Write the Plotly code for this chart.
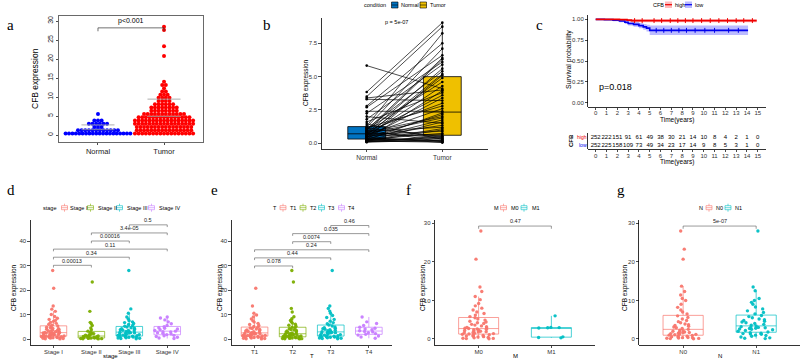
import numpy as np
import plotly.graph_objects as go

W, H = 800, 360
def PX(x): return x / W
def PY(y): return 1 - y / H

SANS = "Liberation Sans, Arial, sans-serif"
SERIF = "Liberation Serif, Times New Roman, serif"

# ---------------- data ----------------
a_categories = ["Normal", "Tumor"]
a_normal = [0.2, 0.25, 0.3, 0.3, 0.35, 0.35, 0.4, 0.4, 0.4, 0.45, 0.45, 0.5, 0.5, 0.5, 0.55, 0.55,
            0.6, 0.6, 0.65, 0.8, 0.9, 0.95, 1.0, 1.0, 1.05, 1.1, 1.1, 1.15, 1.2, 1.3, 1.4, 1.6,
            1.8, 2.0, 2.3, 2.6, 2.8, 2.9, 3.0, 3.1, 3.2, 3.4, 3.6, 3.9, 5.9]
a_tumor = [0.05, 0.1, 0.12, 0.15, 0.2, 0.22, 0.25, 0.3, 0.35, 0.4, 0.45, 0.5, 0.55, 0.6, 0.65, 0.7, 0.8, 0.85,
           0.95, 1.0, 1.05, 1.1, 1.15, 1.2, 1.25, 1.3, 1.35, 1.4, 1.45, 1.5, 1.55, 1.6, 1.65, 1.7, 1.75, 1.8,
           1.9, 1.95, 2.0, 2.05, 2.1, 2.15, 2.2, 2.25, 2.3, 2.35, 2.4, 2.45, 2.5, 2.55, 2.6, 2.65, 2.7, 2.72,
           2.8, 2.85, 2.9, 2.95, 3.0, 3.05, 3.1, 3.15, 3.2, 3.25, 3.3, 3.35, 3.4, 3.45, 3.5, 3.55, 3.6, 3.65,
           3.7, 3.75, 3.8, 3.85, 3.9, 3.95, 4.0, 4.05, 4.1, 4.15, 4.2, 4.25, 4.3, 4.35, 4.4, 4.45, 4.5, 4.55,
           4.65, 4.7, 4.75, 4.8, 4.85, 4.9, 5.0, 5.05, 5.1, 5.2, 5.25, 5.3, 5.4, 5.45,
           5.55, 5.6, 5.7, 5.75, 5.8, 5.9, 6.0, 6.1, 6.2, 6.3, 6.35,
           6.5, 6.6, 6.7, 6.8, 6.9, 7.0, 7.1, 7.2, 7.3,
           7.5, 7.6, 7.8, 7.9, 8.0, 8.1, 8.2, 8.4, 8.6, 8.8, 9.0, 9.1,
           9.4, 9.6, 9.8, 10.0, 10.3, 10.6, 10.9, 11.3, 11.8, 12.2, 12.8, 13.3, 13.8,
           20.7, 23.2, 28.0, 28.1]
a_pvalue = "p<0.001"

b_categories = ["Normal", "Tumor"]
b_normal = [5.83, 3.85, 3.5, 3.4, 3.3, 2.8, 2.7, 2.4, 2.25, 2.0, 1.8, 1.6, 1.45, 1.3,
            1.2, 1.17, 1.13, 1.1, 1.05, 1.0, 0.97, 0.93, 0.9, 0.86, 0.83, 0.8, 0.75, 0.72,
            0.7, 0.68, 0.65, 0.62, 0.6, 0.56, 0.53, 0.5, 0.48, 0.45, 0.42, 0.4, 0.36, 0.33,
            0.3, 0.28, 0.27, 0.25, 0.24, 0.22, 0.2, 0.19, 0.17, 0.15, 0.14, 0.12, 0.1, 0.08]
b_tumor = [4.1, 9.05, 8.75, 4.0, 3.2, 7.5, 6.6, 2.4, 6.1, 1.5, 5.9, 3.8, 0.3, 8.25,
           7.1, 2.8, 0.5, 5.4, 4.6, 0.1, 6.4, 3.0, 1.2, 6.3, 2.0, 0.42, 5.6, 3.6,
           1.9, 4.9, 0.9, 2.6, 5.2, 0.65, 4.3, 1.35, 0.05, 3.4, 2.15, 5.1, 0.2, 1.75,
           3.95, 0.75, 0.33, 2.28, 0.15, 1.1, 0.47, 1.6, 0.08, 1.0, 0.38, 0.18, 0.55, 0.25]
b_pvalue = "p = 5e-07"

c_high_time = [0, 2.2, 2.9, 3.3, 14.9]
c_high_surv = [1.0, 0.996, 0.99, 0.985, 0.985]
c_high_lower = [1.0, 0.986, 0.975, 0.966, 0.966]
c_high_upper = [1.0, 1.0, 1.0, 1.0, 1.0]
c_low_time = [0, 0.8, 1.6, 2.2, 2.7, 3.0, 3.5, 4.0, 4.4, 4.7, 5.0, 14.1]
c_low_surv = [1.0, 0.996, 0.99, 0.98, 0.965, 0.95, 0.94, 0.925, 0.91, 0.895, 0.868, 0.868]
c_low_lower = [1.0, 0.988, 0.978, 0.965, 0.945, 0.925, 0.912, 0.893, 0.875, 0.855, 0.812, 0.812]
c_low_upper = [1.0, 1.0, 1.0, 0.995, 0.985, 0.975, 0.968, 0.957, 0.945, 0.935, 0.925, 0.925]
c_high_censor = [3.6, 4.3, 5.4, 6.1, 6.9, 7.6, 8.3, 9.0, 9.8, 10.6, 11.4, 12.2, 13.0, 13.7, 14.5]
c_low_censor = [5.6, 6.3, 7.0, 7.7, 8.4, 9.2, 10.1, 11.0, 12.3, 13.2]
risk_times = list(range(16))
risk_high = [252, 222, 151, 91, 61, 49, 38, 30, 21, 14, 10, 8, 4, 2, 1, 0]
risk_low = [252, 225, 158, 109, 73, 49, 34, 23, 17, 14, 9, 8, 5, 3, 1, 0]
c_groups = ["high", "low"]
c_pvalue = "p=0.018"

stage_labels = ["Stage I", "Stage II", "Stage III", "Stage IV"]
stage_values = [
    [0.05, 0.1, 0.2, 0.3, 0.35, 0.45, 0.5, 0.6, 0.7, 0.8, 0.85, 0.9, 0.95, 1.0, 1.1, 1.2, 1.3, 1.4, 1.5, 1.6,
     1.7, 1.8, 1.9, 2.0, 2.1, 2.2, 2.3, 2.35, 2.4, 2.5, 2.6, 2.7, 2.8, 3.0, 3.1, 3.3, 3.5, 3.6, 3.8, 4.0,
     4.2, 4.3, 4.5, 4.8, 5.0, 5.3, 5.6, 6.0, 6.4, 6.8, 7.2, 7.6, 8.0, 8.5, 9.2, 10.0, 11.3, 12.2, 13.5, 20.7, 28.0],
    [0.05, 0.1, 0.15, 0.2, 0.25, 0.3, 0.35, 0.4, 0.5, 0.6, 0.7, 0.8, 0.9, 1.0, 1.1, 1.2, 1.4, 1.6, 1.8, 2.0,
     2.2, 2.4, 2.8, 3.2, 3.8, 4.5, 5.5, 6.3, 6.8, 11.3, 23.3],
    [0.1, 0.2, 0.3, 0.4, 0.5, 0.6, 0.7, 0.8, 0.9, 1.0, 1.1, 1.2, 1.3, 1.5, 1.6, 1.8, 1.9, 2.0, 2.2, 2.4,
     2.5, 2.6, 2.7, 2.8, 3.0, 3.1, 3.3, 3.5, 3.6, 3.8, 4.0, 4.2, 4.4, 4.6, 4.9, 5.2, 5.5, 5.9, 6.3, 6.7,
     7.0, 7.5, 8.2, 9.0, 10.5, 12.3, 28.0],
    [0.2, 0.4, 0.7, 1.0, 1.3, 1.5, 1.8, 2.0, 2.3, 2.6, 2.9, 3.0, 3.2, 3.5, 3.8, 4.1, 4.4, 4.6, 5.0, 5.5,
     6.2, 7.0, 7.8, 8.6, 9.0],
]
stage_pairs = [(0, 1), (0, 2), (0, 3), (1, 2), (1, 3), (2, 3)]
stage_pvals = ["0.00013", "0.34", "0.11", "0.00016", "3.4e-05", "0.5"]

t_labels = ["T1", "T2", "T3", "T4"]
t_values = [
    [0.05, 0.1, 0.2, 0.3, 0.4, 0.5, 0.6, 0.7, 0.8, 0.9, 1.0, 1.1, 1.2, 1.3, 1.4, 1.5, 1.6, 1.8, 1.9, 2.0,
     2.1, 2.2, 2.3, 2.4, 2.5, 2.6, 2.8, 3.0, 3.1, 3.3, 3.5, 3.7, 3.9, 4.1, 4.3, 4.5, 4.8, 5.1, 5.5, 5.9,
     6.4, 6.9, 7.5, 8.2, 9.0, 9.8, 10.5, 13.5, 20.7],
    [0.05, 0.1, 0.15, 0.2, 0.25, 0.3, 0.4, 0.5, 0.55, 0.6, 0.7, 0.8, 0.9, 1.0, 1.1, 1.2, 1.3, 1.4, 1.5, 1.6,
     1.7, 1.8, 1.9, 2.0, 2.1, 2.2, 2.4, 2.5, 2.7, 2.9, 3.1, 3.3, 3.5, 3.7, 3.9, 4.2, 4.5, 4.8, 5.2, 5.6,
     6.0, 6.5, 7.0, 7.6, 8.3, 9.1, 11.0, 12.5, 23.3, 28.0],
    [0.1, 0.2, 0.3, 0.4, 0.5, 0.6, 0.7, 0.8, 0.9, 1.0, 1.1, 1.2, 1.3, 1.4, 1.6, 1.8, 2.0, 2.2, 2.4, 2.5,
     2.6, 2.7, 2.8, 3.0, 3.2, 3.4, 3.6, 3.8, 4.0, 4.2, 4.4, 4.6, 4.9, 5.3, 5.7, 6.2, 6.7, 7.3, 8.0, 8.8,
     9.6, 10.5, 11.4, 12.5, 13.5, 28.0],
    [0.3, 0.8, 1.2, 1.6, 1.9, 2.2, 2.6, 2.9, 3.1, 3.4, 3.8, 4.1, 4.4, 4.8, 5.5, 6.3, 7.0, 9.0],
]
t_pairs = [(0, 1), (0, 2), (0, 3), (1, 2), (1, 3), (2, 3)]
t_pvals = ["0.078", "0.44", "0.24", "0.0074", "0.035", "0.46"]

m_labels = ["M0", "M1"]
m_values = [
    [0.05, 0.1, 0.15, 0.2, 0.3, 0.4, 0.5, 0.6, 0.7, 0.8, 0.9, 1.0, 1.1, 1.2, 1.3, 1.4, 1.5, 1.6, 1.7, 1.8,
     1.9, 2.0, 2.1, 2.2, 2.3, 2.4, 2.5, 2.6, 2.7, 2.8, 2.9, 3.0, 3.2, 3.4, 3.6, 3.8, 4.0, 4.2, 4.4, 4.6,
     4.9, 5.2, 5.5, 5.8, 6.2, 6.6, 7.0, 7.5, 8.0, 8.6, 9.2, 10.2, 11.0, 12.3, 13.5, 20.7, 28.0],
    [0.3, 0.4, 0.55, 2.85, 2.9, 2.95, 3.0, 6.0],
]
m_pairs = [(0, 1)]
m_pvals = ["0.47"]

n_labels = ["N0", "N1"]
n_values = [
    [0.05, 0.1, 0.15, 0.2, 0.25, 0.3, 0.35, 0.4, 0.5, 0.6, 0.7, 0.8, 0.9, 1.0, 1.1, 1.2, 1.3, 1.4, 1.5, 1.6,
     1.7, 1.8, 1.9, 2.0, 2.1, 2.3, 2.5, 2.7, 2.9, 3.1, 3.3, 3.5, 3.7, 3.9, 4.2, 4.5, 4.8, 5.2, 5.6, 6.0,
     6.5, 7.0, 7.5, 8.2, 9.0, 10.0, 10.5, 11.4, 12.3, 13.7, 20.7, 23.3, 28.0],
    [0.1, 0.2, 0.3, 0.5, 0.7, 0.9, 1.0, 1.2, 1.3, 1.4, 1.5, 1.6, 1.8, 2.0, 2.2, 2.4, 2.5, 2.6, 2.7, 2.8,
     2.9, 3.0, 3.1, 3.2, 3.4, 3.6, 3.8, 4.0, 4.2, 4.4, 4.6, 4.8, 5.0, 5.2, 5.5, 5.8, 6.1, 6.5, 6.9, 7.3,
     7.8, 8.3, 9.0, 9.5, 10.0, 10.5, 12.5, 13.5, 28.0],
]
n_pairs = [(0, 1)]
n_pvals = ["5e-07"]

HUE4 = ["#F8766D", "#7CAE00", "#00BFC4", "#C77CFF"]
HUE2 = ["#F8766D", "#00BFC4"]

# ---------------- figure ----------------
fig = go.Figure()
annotations, shapes = [], []
layout = dict(width=W, height=H, margin=dict(l=0, r=0, t=0, b=0),
              paper_bgcolor="white", plot_bgcolor="white", showlegend=False,
              font=dict(family=SANS, size=6, color="black"), boxmode="overlay")


def axis(dom, rng, **kw):
    d = dict(domain=dom, range=rng, showgrid=False, zeroline=False, showline=True,
             linecolor="black", linewidth=0.8, ticks="outside", ticklen=2.5, tickwidth=0.7,
             tickcolor="black", tickfont=dict(size=6, family=SANS, color="#333333"),
             fixedrange=True)
    d.update(kw)
    return d


def text(x, y, s, size=6, color="black", angle=0, xanchor="center", yanchor="middle",
         family=SANS, xref="paper", yref="paper"):
    annotations.append(dict(x=x, y=y, text=s, showarrow=False, xref=xref, yref=yref,
                            font=dict(size=size, color=color, family=family), textangle=angle,
                            xanchor=xanchor, yanchor=yanchor, borderpad=0))


def paper_rect(x0, x1, y0, y1, line="black", fill="rgba(0,0,0,0)", w=0.7):
    shapes.append(dict(type="rect", xref="paper", yref="paper", x0=PX(x0), x1=PX(x1),
                       y0=PY(y1), y1=PY(y0), line=dict(color=line, width=w), fillcolor=fill))


def paper_line(x0, y0, x1, y1, color="black", w=0.7):
    shapes.append(dict(type="line", xref="paper", yref="paper", x0=PX(x0), x1=PX(x1),
                       y0=PY(y0), y1=PY(y1), line=dict(color=color, width=w)))


# panel letters
for letter, lx, ly in [("a", 6, 25), ("b", 262, 25), ("c", 535, 25),
                       ("d", 6, 190), ("e", 210, 190), ("f", 405, 190), ("g", 616, 190)]:
    text(PX(lx), PY(ly), letter, size=15, family=SERIF, xanchor="left")

# ---------------- panel a : beeswarm ----------------
def swarm(values, center, binh, dx, maxhalf):
    v = np.sort(np.asarray(values, float))
    bins = np.floor(v / binh).astype(int)
    xs, ys = [], []
    for b in np.unique(bins):
        n = int(np.sum(bins == b))
        step = dx if (n - 1) * dx <= 2 * maxhalf else 2 * maxhalf / (n - 1)
        for i in range(n):
            xs.append(center + (i - (n - 1) / 2) * step)
            ys.append((b + 0.5) * binh)
    return xs, ys

layout["xaxis"] = axis([PX(59), PX(203)], [-0.59, 1.59], anchor="y", mirror=True, linecolor="#444",
                       tickvals=[0, 1], ticktext=a_categories, tickfont=dict(size=7.5, family=SANS, color="#222"))
layout["yaxis"] = axis([PY(142), PY(16)], [-1.84, 31.32], anchor="x", mirror=True, linecolor="#444",
                       tickvals=[0, 5, 10, 15, 20, 25, 30], tickangle=-90,
                       tickfont=dict(size=7, family=SANS, color="#222"))
for i, (vals, col) in enumerate([(a_normal, "#0000FF"), (a_tumor, "#FF0000")]):
    sx, sy = swarm(vals, i, 0.85, 0.055, 0.49)
    fig.add_trace(go.Scatter(x=sx, y=sy, mode="markers", xaxis="x", yaxis="y",
                             marker=dict(size=4.0, color=col, line=dict(width=0))))
    m, s = float(np.mean(vals)), float(np.std(vals))
    for yv in (m, m + s):
        shapes.append(dict(type="line", xref="x", yref="y", x0=i - 0.25, x1=i + 0.25, y0=yv, y1=yv,
                           line=dict(color="#999999", width=0.8)))
ya = max(a_tumor) + 0.1
shapes.append(dict(type="path", xref="x", yref="y",
                   path=f"M 0,{ya-0.9} L 0,{ya} L 1,{ya} L 1,{ya-0.9}", line=dict(color="#333", width=0.7)))
text(0.5, ya + 0.5, a_pvalue, size=7, xref="x", yref="y", yanchor="bottom")
text(PX(35), PY(79), "CFB expression", size=8.5, angle=-90)

# ---------------- panel b : paired ----------------
layout["xaxis2"] = axis([PX(321.7), PX(487.7)], [-0.595, 1.6], anchor="y2", type="category",
                        categoryorder="array", categoryarray=b_categories,
                        tickfont=dict(size=6.5, family=SANS, color="#333"))
layout["yaxis2"] = axis([PY(149), PY(18)], [-0.43, 9.4], anchor="x2", tickvals=[0, 2.5, 5, 7.5],
                        ticktext=["0.0", "2.5", "5.0", "7.5"])
for cat, vals, col in [("Normal", b_normal, "#0073C2"), ("Tumor", b_tumor, "#EFC000")]:
    fig.add_trace(go.Box(x=[cat] * len(vals), y=vals, xaxis="x2", yaxis="y2", width=0.5,
                         fillcolor=col, line=dict(color="black", width=0.8), boxpoints="outliers",
                         marker=dict(opacity=0), whiskerwidth=0))
lx, ly = [], []
for n_, t_ in zip(b_normal, b_tumor):
    lx += ["Normal", "Tumor", None]
    ly += [n_, t_, None]
fig.add_trace(go.Scatter(x=lx, y=ly, mode="lines+markers", xaxis="x2", yaxis="y2",
                         line=dict(color="black", width=0.7), marker=dict(size=2.6, color="black")))
text(0.39, 9.1, b_pvalue, size=5.5, xref="x2", yref="y2")
text(PX(306), PY(83), "CFB expression", size=6.5, angle=-90)
# legend b
text(PX(375), PY(5), "condition", size=5.5)
for kx, lab, col in [(391.5, "Normal", "#0073C2"), (420, "Tumor", "#EFC000")]:
    paper_rect(kx, kx + 6.5, 2, 8, line="black", fill=col, w=0.6)
    paper_line(kx, 5, kx + 6.5, 5, w=0.6)
    text(PX(kx + 8.5), PY(5), lab, size=5.5, xanchor="left")

# ---------------- panel c : KM ----------------
cx = [PX(588.3), PX(766)]
layout["xaxis3"] = axis(cx, [-0.685, 15.76], anchor="y3", tickvals=risk_times, ticklabelstandoff=-2)
layout["yaxis3"] = axis([PY(106.7), PY(15)], [-0.048, 1.052], anchor="x3",
                        tickvals=[0, 0.25, 0.5, 0.75, 1.0], ticktext=["0.00", "0.25", "0.50", "0.75", "1.00"])

def step_at(times, surv, t):
    idx = np.searchsorted(np.asarray(times), t, side="right") - 1
    return [surv[i] for i in idx]

for times, surv, lo, up, cens, col, band in [
        (c_low_time, c_low_surv, c_low_lower, c_low_upper, c_low_censor, "#0000EE", "rgba(60,60,255,0.35)"),
        (c_high_time, c_high_surv, c_high_lower, c_high_upper, c_high_censor, "#EE0000", "rgba(255,60,60,0.35)")]:
    fig.add_trace(go.Scatter(x=times, y=up, mode="lines", line=dict(width=0, shape="hv"),
                             xaxis="x3", yaxis="y3"))
    fig.add_trace(go.Scatter(x=times, y=lo, mode="lines", line=dict(width=0, shape="hv"),
                             fill="tonexty", fillcolor=band, xaxis="x3", yaxis="y3"))
for times, surv, cens, col in [(c_low_time, c_low_surv, c_low_censor, "#0000EE"),
                               (c_high_time, c_high_surv, c_high_censor, "#EE0000")]:
    fig.add_trace(go.Scatter(x=times, y=surv, mode="lines", line=dict(width=1.6, color=col, shape="hv"),
                             xaxis="x3", yaxis="y3"))
    fig.add_trace(go.Scatter(x=cens, y=step_at(times, surv, cens), mode="markers", xaxis="x3", yaxis="y3",
                             marker=dict(symbol="line-ns", size=3.5, line=dict(width=1, color=col))))
text(0.2, 0.19, c_pvalue, size=9, xref="x3", yref="y3", xanchor="left")
text(PX(569), PY(60), "Survival probability", size=7, angle=-90)
text(PX(677), PY(120.5), "Time(years)", size=6.5)
# legend c
text(PX(658), PY(4.7), "CFB", size=5.5)
for kx, lab, col, band in [(665, "high", "#EE0000", "rgba(255,60,60,0.35)"),
                           (685, "low", "#0000EE", "rgba(60,60,255,0.35)")]:
    paper_rect(kx, kx + 7, 1.5, 8, line=band, fill=band, w=0)
    paper_line(kx, 4.7, kx + 7, 4.7, color=col, w=1.2)
    text(PX(kx + 8.5), PY(4.7), lab, size=5.5, xanchor="left")

# risk table
layout["xaxis4"] = axis(cx, [-0.685, 15.76], anchor="y4", tickvals=risk_times, ticklabelstandoff=-2)
layout["yaxis4"] = axis([PY(149), PY(133)], [0, 2], anchor="x4", showticklabels=False, ticks="")
for row, yv in [(risk_high, 1.45), (risk_low, 0.5)]:
    fig.add_trace(go.Scatter(x=risk_times, y=[yv] * len(row), mode="text", text=[str(v) for v in row],
                             textfont=dict(size=6, color="black", family=SANS), xaxis="x4", yaxis="y4"))
text(PX(587.5), PY(137.4), c_groups[0], size=5, color="#EE0000", xanchor="right")
text(PX(587.5), PY(145), c_groups[1], size=5, color="#0000EE", xanchor="right")
text(PX(571), PY(141), "<b>CFB</b>", size=6, angle=-90)
text(PX(677), PY(161.5), "Time(years)", size=6.5)

# ---------------- panels d-g ----------------
def box_panel(k, xpx, yrng, yticks, labels, values, colors, pairs, pvals, xtitle, ytx,
              legend_title_x, key_x, lab_x, boxw, bracket_base, bracket_step, tick_drop):
    xa, ya_ = f"x{k}", f"y{k}"
    layout[f"xaxis{k}"] = axis([PX(xpx[0]), PX(xpx[1])], [-0.6, len(labels) - 0.4], anchor=ya_,
                               type="category", categoryorder="array", categoryarray=labels,
                               ticklabelstandoff=-2, tickfont=dict(size=6, family=SANS, color="#333"))
    layout[f"yaxis{k}"] = axis([PY(345), PY(220)], yrng, anchor=xa, tickvals=yticks)
    for lab, vals, col in zip(labels, values, colors):
        fig.add_trace(go.Box(x=[lab] * len(vals), y=vals, xaxis=xa, yaxis=ya_, width=boxw,
                             fillcolor="rgba(255,255,255,0)", line=dict(color=col, width=0.7),
                             boxpoints="all", jitter=1, pointpos=0, whiskerwidth=0,
                             marker=dict(size=3.4, color=col, opacity=0.95)))
    top = max(max(v) for v in values)
    for j, ((i0, i1), pv) in enumerate(zip(pairs, pvals)):
        yb = top * bracket_base + j * top * bracket_step
        shapes.append(dict(type="path", xref=xa, yref=ya_,
                           path=f"M {i0},{yb - tick_drop} L {i0},{yb} L {i1},{yb} L {i1},{yb - tick_drop}",
                           line=dict(color="#555", width=0.6)))
        text((i0 + i1) / 2, yb + 0.25, pv, size=5.5, xref=xa, yref=ya_, yanchor="bottom", color="#222")
    text(PX((xpx[0] + xpx[1]) / 2), PY(359.5), xtitle, size=6, yanchor="bottom")
    text(PX(ytx), PY(288), "CFB expression", size=6.5, angle=-90)
    text(PX(legend_title_x), PY(207.7), xtitle, size=5.5, xanchor="left")
    for kx, lx_, lab, col in zip(key_x, lab_x, labels, colors):
        paper_rect(kx, kx + 6, 205.7, 209.7, line=col, w=0.6)
        paper_line(kx, 207.7, kx + 6, 207.7, color=col, w=0.6)
        paper_line(kx + 3, 203.7, kx + 3, 205.7, color=col, w=0.6)
        paper_line(kx + 3, 209.7, kx + 3, 211.7, color=col, w=0.6)
        text(PX(lx_), PY(207.7), lab, size=5.5, xanchor="left")

box_panel(5, (30.7, 190), [-2.45, 48.6], [0, 10, 20, 30, 40], stage_labels, stage_values, HUE4,
          stage_pairs, stage_pvals, "stage", 14, 42, [61.5, 87.5, 116.5, 148.5], [69, 96.5, 125.5, 158],
          0.7, 1.075, 0.118, 0.9)
box_panel(6, (231.7, 391.7), [-2.45, 48.6], [0, 10, 20, 30, 40], t_labels, t_values, HUE4,
          t_pairs, t_pvals, "T", 220, 272, [280, 300, 318.5, 338.5], [289, 308.5, 327, 347],
          0.7, 1.065, 0.118, 0.9)
box_panel(7, (435, 595), [-1.56, 30.86], [0, 10, 20, 30], m_labels, m_values, HUE2,
          m_pairs, m_pvals, "M", 423, 492.5, [500.5, 521], [510, 531],
          0.55, 1.046, 0.1, 0.7)
box_panel(8, (639.3, 800), [-1.56, 30.86], [0, 10, 20, 30], n_labels, n_values, HUE2,
          n_pairs, n_pvals, "N", 625, 697.5, [706, 725], [715, 733.5],
          0.55, 1.046, 0.1, 0.7)

layout["annotations"] = annotations
layout["shapes"] = shapes
fig.update_layout(**layout)
fig.write_html("out.html", config={"displayModeBar": False, "staticPlot": True},
               post_script="document.body.style.margin='0px';document.body.style.padding='0px';"
                           "document.documentElement.style.overflow='hidden';")
